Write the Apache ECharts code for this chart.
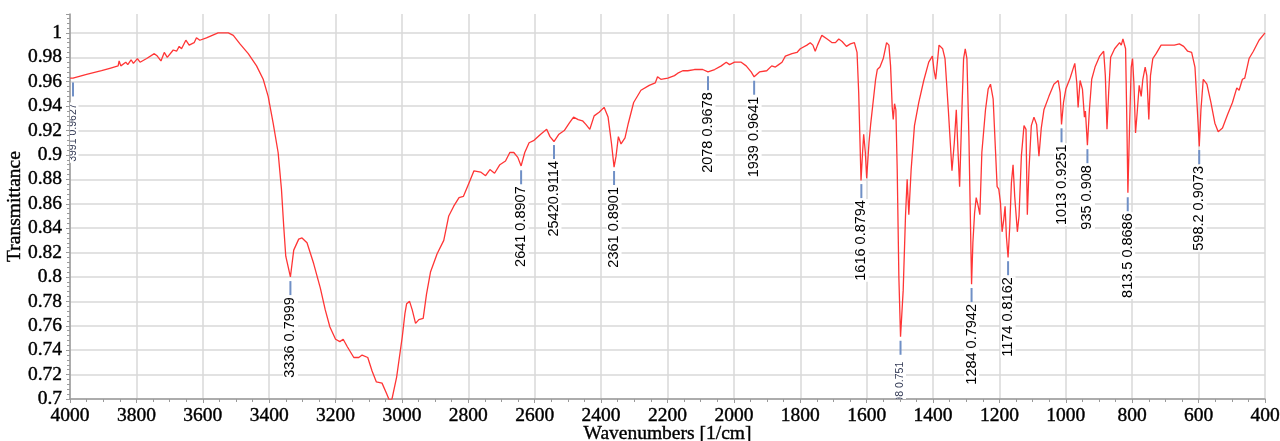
<!DOCTYPE html>
<html><head><meta charset="utf-8">
<script src="https://cdn.jsdelivr.net/npm/echarts@6/dist/echarts.min.js"></script>
<style>html,body{margin:0;padding:0;background:#fff}#c{width:1280px;height:441px}</style>
</head><body><div id="c"></div>
<script>
const wavenumbers = [4000,3991,3950,3905,3880,3855,3852,3847,3832,3826,3816,3809,3797,3789,3769,3746,3737,3726,3716,3707,3689,3679,3671,3664,3651,3641,3626,3619,3609,3589,3554,3539,3523,3508,3488,3463,3438,3418,3403,3388,3373,3363,3356,3350,3336,3326,3311,3301,3286,3266,3246,3231,3217,3200,3187,3177,3165,3145,3130,3120,3103,3090,3077,3060,3047,3038,3030,3016,2999,2991,2986,2977,2969,2959,2949,2936,2926,2914,2894,2874,2859,2844,2828,2815,2798,2783,2763,2748,2735,2721,2705,2688,2675,2663,2651,2641,2630,2617,2602,2582,2564,2554,2542,2527,2511,2496,2483,2469,2456,2446,2434,2421,2406,2391,2379,2369,2361,2355,2348,2340,2328,2318,2302,2280,2255,2237,2230,2220,2199,2179,2169,2154,2139,2119,2094,2078,2058,2038,2023,2013,1998,1978,1963,1948,1939,1923,1901,1886,1875,1865,1855,1845,1825,1810,1800,1780,1770,1762,1755,1748,1735,1719,1704,1694,1684,1674,1661,1649,1637,1629,1624,1617,1613,1609,1604,1600,1593,1588,1583,1573,1568,1560,1550,1540,1533,1528,1523,1520,1516,1512,1508,1503,1498,1490,1483,1478,1473,1466,1456,1443,1428,1413,1402,1397,1392,1382,1371,1364,1354,1343,1336,1330,1325,1320,1313,1308,1303,1298,1292,1284,1280,1275,1270,1264,1259,1253,1242,1234,1227,1219,1212,1207,1202,1197,1192,1187,1183,1179,1174,1169,1164,1159,1154,1146,1141,1134,1126,1120,1116,1111,1104,1096,1088,1081,1074,1066,1051,1036,1023,1017,1013,1007,1000,987,973,967,963,957,950,944,941,935,929,922,912,898,886,881,876,871,865,853,838,833,828,823,820,816,813,808,803,799,795,790,785,779,773,768,761,756,750,745,738,728,713,693,673,658,645,633,621,611,605,598,593,586,575,563,551,541,528,513,498,485,478,468,461,448,435,418,403,400];
const transmittance = [0.963,0.963,0.966,0.969,0.971,0.973,0.977,0.973,0.976,0.974,0.978,0.975,0.979,0.976,0.979,0.983,0.981,0.977,0.984,0.980,0.986,0.985,0.989,0.987,0.994,0.990,0.992,0.996,0.994,0.996,1.000,1.000,1.000,0.998,0.991,0.983,0.973,0.962,0.948,0.926,0.902,0.872,0.841,0.817,0.800,0.822,0.831,0.832,0.828,0.811,0.791,0.773,0.759,0.749,0.747,0.749,0.743,0.734,0.734,0.736,0.734,0.723,0.714,0.713,0.705,0.699,0.700,0.718,0.751,0.770,0.778,0.780,0.773,0.762,0.765,0.766,0.786,0.804,0.819,0.830,0.850,0.858,0.865,0.866,0.877,0.887,0.886,0.883,0.888,0.885,0.892,0.895,0.902,0.902,0.898,0.891,0.902,0.910,0.912,0.917,0.921,0.915,0.911,0.917,0.920,0.926,0.931,0.929,0.928,0.925,0.921,0.932,0.935,0.939,0.931,0.910,0.890,0.899,0.915,0.909,0.914,0.926,0.943,0.953,0.957,0.959,0.964,0.962,0.963,0.965,0.967,0.969,0.969,0.970,0.970,0.968,0.970,0.973,0.976,0.974,0.976,0.976,0.973,0.968,0.964,0.968,0.969,0.973,0.972,0.974,0.976,0.981,0.983,0.984,0.987,0.990,0.992,0.990,0.985,0.990,0.998,0.995,0.992,0.992,0.995,0.993,0.989,0.991,0.992,0.984,0.951,0.879,0.899,0.917,0.902,0.881,0.910,0.925,0.924,0.962,0.970,0.972,0.979,0.992,0.990,0.973,0.939,0.929,0.942,0.937,0.888,0.800,0.751,0.789,0.850,0.880,0.851,0.888,0.924,0.943,0.961,0.976,0.981,0.969,0.962,0.990,0.987,0.979,0.937,0.887,0.910,0.937,0.904,0.874,0.937,0.979,0.987,0.979,0.915,0.794,0.828,0.852,0.865,0.858,0.851,0.902,0.937,0.954,0.958,0.946,0.904,0.874,0.872,0.861,0.837,0.847,0.858,0.833,0.816,0.841,0.877,0.892,0.866,0.837,0.850,0.899,0.924,0.921,0.851,0.888,0.924,0.931,0.925,0.899,0.922,0.937,0.948,0.958,0.961,0.951,0.925,0.943,0.954,0.963,0.975,0.959,0.939,0.961,0.954,0.931,0.936,0.908,0.937,0.962,0.972,0.981,0.985,0.965,0.921,0.951,0.980,0.987,0.992,0.990,0.995,0.995,0.987,0.924,0.869,0.924,0.972,0.979,0.959,0.918,0.935,0.957,0.948,0.962,0.972,0.965,0.929,0.965,0.979,0.983,0.990,0.990,0.990,0.991,0.989,0.985,0.984,0.972,0.943,0.907,0.937,0.962,0.958,0.943,0.926,0.919,0.922,0.933,0.943,0.955,0.953,0.962,0.963,0.979,0.985,0.994,0.999,1.000];

const peakWavenumbers = [3991,3336,2641,2542,2361,2078,1939,1616,1498,1284,1174,1013,935,813.5,598.2];
const peakValues = [0.9627,0.7999,0.8907,0.9114,0.8901,0.9678,0.9641,0.8794,0.751,0.7942,0.8162,0.9251,0.908,0.8686,0.9073];
const peakLabels = ['3991 0.9627','3336 0.7999','2641 0.8907','25420.9114','2361 0.8901','2078 0.9678','1939 0.9641','1616 0.8794','1498 0.751','1284 0.7942','1174 0.8162','1013 0.9251','935 0.908','813.5 0.8686','598.2 0.9073'];

const xTickLabels = [4000,3800,3600,3400,3200,3000,2800,2600,2400,2200,2000,1800,1600,1400,1200,1000,800,600,400];
const yTickLabels = ['0.7','0.72','0.74','0.76','0.78','0.8','0.82','0.84','0.86','0.88','0.9','0.92','0.94','0.96','0.98','1'];

// style: labels drawn in a reduced font
const smallLabelSet = new Set(['3991 0.9627','1498 0.751']);

const lineData = wavenumbers.map((w, i) => [w, transmittance[i]]);
const peakData = peakWavenumbers.map((w, i) => [w, peakValues[i], i]);

const serif = "'Liberation Serif','Times New Roman',serif";
const sans = "'Liberation Sans',Arial,sans-serif";
const axisGray = '#9a9a9a';
const gridGray = '#d9d9d9';
const labelStyle = {fontFamily: serif, fontSize: 19.5, color: '#000', textBorderColor: '#000', textBorderWidth: 0.4};

const chart = echarts.init(document.getElementById('c'), null, {renderer: 'canvas'});
chart.setOption({
  animation: false,
  backgroundColor: '#fff',
  grid: {left: 70, right: 15, top: 14, bottom: 42, containLabel: false, outerBoundsMode: 'none'},
  xAxis: {
    type: 'value', inverse: true, min: 400, max: 4000, interval: 200,
    name: 'Wavenumbers [1/cm]', nameLocation: 'middle', nameGap: 25, nameMoveOverlap: false,
    nameTextStyle: Object.assign({}, labelStyle),
    axisLine: {show: true, lineStyle: {color: axisGray, width: 1.5}},
    axisTick: {show: true, length: 4, lineStyle: {color: axisGray}},
    minorTick: {show: true, splitNumber: 4, length: 3, lineStyle: {color: axisGray}},
    splitLine: {show: true, lineStyle: {color: gridGray, width: 1.5}},
    axisLabel: Object.assign({margin: 7,
      formatter: v => { const t = xTickLabels.find(x => Math.abs(x - v) < 1e-6); return t === undefined ? '' : String(t); }}, labelStyle)
  },
  yAxis: {
    type: 'value', min: 0.7, max: 1.0155, interval: 0.02,
    name: 'Transmittance', nameLocation: 'middle', nameGap: 45, nameRotate: 90, nameMoveOverlap: false,
    nameTextStyle: Object.assign({}, labelStyle),
    axisLine: {show: true, lineStyle: {color: axisGray, width: 1.5}},
    axisTick: {show: true, length: 4, lineStyle: {color: axisGray}},
    minorTick: {show: true, splitNumber: 5, length: 3, lineStyle: {color: axisGray}},
    splitLine: {show: true, showMaxLine: false, lineStyle: {color: gridGray, width: 1.5}},
    axisLabel: Object.assign({margin: 8, showMaxLabel: false,
      formatter: v => { const t = yTickLabels.find(s => Math.abs(parseFloat(s) - v) < 1e-6); return t === undefined ? '' : t; }}, labelStyle)
  },
  series: [
    {
      type: 'custom', z: 1, clip: true,
      data: peakData,
      renderItem: function (params, api) {
        const idx = api.value(2);
        const p = api.coord([api.value(0), api.value(1)]);
        const txt = peakLabels[idx];
        const small = smallLabelSet.has(txt);
        return {
          type: 'group',
          children: [
            {type: 'line', shape: {x1: p[0], y1: p[1] + 4, x2: p[0], y2: p[1] + 18},
             style: {stroke: '#7090c6', lineWidth: 2}},
            {type: 'text', x: p[0], y: p[1] + (small ? 24 : 19), rotation: Math.PI / 2,
             style: {text: txt, fontFamily: sans, fontSize: small ? 10.5 : 14.5,
                     fill: small ? '#333a55' : '#000', align: 'right', verticalAlign: 'middle',
                     backgroundColor: '#fff', padding: [0, 1, 0, 1]}}
          ]
        };
      }
    },
    {
      type: 'line', z: 3, data: lineData, showSymbol: false, symbol: 'none',
      lineStyle: {color: '#ff3535', width: 1.3}, emphasis: {disabled: true}
    }
  ]
});
</script>
</body></html>
